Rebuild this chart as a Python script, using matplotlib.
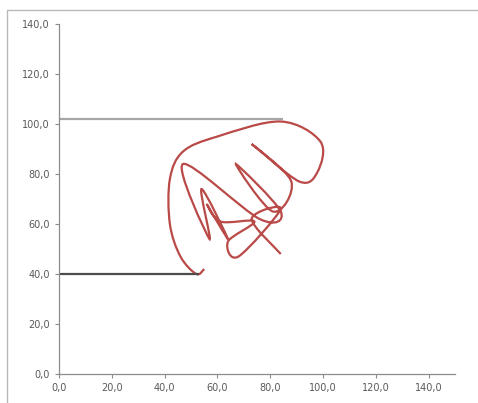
"""smoothed scatter line chart, excel style"""

import numpy as np
import matplotlib.pyplot as plt
from matplotlib.path import Path
from matplotlib.patches import PathPatch, Rectangle
from matplotlib.ticker import FuncFormatter

# series data
upper_x = [0.0, 85.0]
upper_y = [102.0, 102.0]

lower_x = [0.0, 53.0]
lower_y = [40.0, 40.0]

curve_x = [55, 52, 46, 42, 42, 47, 60, 84, 99, 98, 91, 73, 88, 81, 67, 84, 76, 47, 57, 54, 64, 56, 61, 74, 64, 68, 84, 73, 84]
curve_y = [42, 40, 47, 60, 78, 89, 95, 101, 93, 81, 77, 92, 77, 65, 84, 65, 62, 84, 54, 74, 54, 68, 61, 61, 53, 47, 66, 62, 48]

X_TICKS = [0, 20, 40, 60, 80, 100, 120, 140]
Y_TICKS = [0, 20, 40, 60, 80, 100, 120, 140]


def smooth_path(xs, ys):
    """excel-like smoothed line: bezier through every point"""
    pts = np.column_stack([xs, ys]).astype(float)
    verts = [pts[0]]
    codes = [Path.MOVETO]
    n = len(pts)
    for i in range(n - 1):
        p0 = pts[max(i - 1, 0)]
        p1 = pts[i]
        p2 = pts[i + 1]
        p3 = pts[min(i + 2, n - 1)]
        c1 = p1 + (p2 - p0) / 6.0
        c2 = p2 - (p3 - p1) / 6.0
        verts += [c1, c2, p2]
        codes += [Path.CURVE4] * 3
    return Path(verts, codes)


fig = plt.figure(figsize=(4.78, 4.03), dpi=100)
fig.patches.append(Rectangle((7 / 478, -0.1), 1.2, (403 - 10) / 403 + 0.1,
                             transform=fig.transFigure, fill=False,
                             edgecolor="#b8b8b8", linewidth=1.0))

ax = fig.add_axes([59 / 478, 29 / 403, (455 - 59) / 478, (374 - 24) / 403])

ax.plot(upper_x, upper_y, color="#a6a6a6", linewidth=1.6, solid_capstyle="butt")
ax.plot(lower_x, lower_y, color="#4d4d4d", linewidth=1.6, solid_capstyle="butt")
ax.add_patch(PathPatch(smooth_path(curve_x, curve_y), fill=False,
                       edgecolor="#b94a48", linewidth=1.6))

ax.set_xlim(0, 150)
ax.set_ylim(0, 140)
ax.set_xticks(X_TICKS)
ax.set_yticks(Y_TICKS)
fmt = FuncFormatter(lambda v, _: ("%.1f" % v).replace(".", ","))
ax.xaxis.set_major_formatter(fmt)
ax.yaxis.set_major_formatter(fmt)

for side in ("top", "right"):
    ax.spines[side].set_visible(False)
for side in ("left", "bottom"):
    ax.spines[side].set_color("#8c8c8c")
    ax.spines[side].set_linewidth(0.9)
ax.tick_params(colors="#8c8c8c", labelcolor="#595959", labelsize=7,
               length=3, width=0.8, direction="out")

fig.savefig("out.png", dpi=100)
